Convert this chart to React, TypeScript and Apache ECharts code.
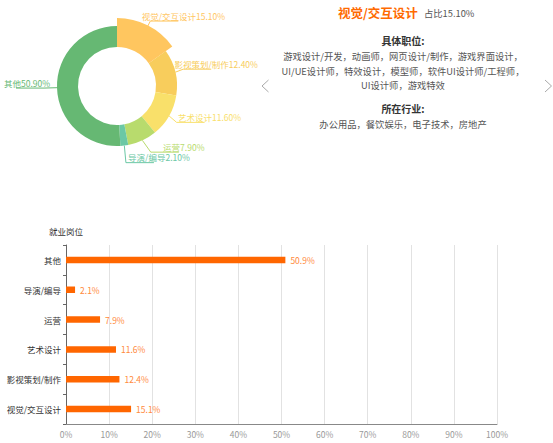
import React, { useEffect, useRef } from "react";
import * as echarts from "echarts";

const categories = ["视觉/交互设计", "影视策划/制作", "艺术设计", "运营", "导演/编导", "其他"];
const shares = [15.1, 12.4, 11.6, 7.9, 2.1, 50.9];
const sliceColors = ["#FFC65F", "#F8CD5C", "#F9E06A", "#B8DB6D", "#6BC8A5", "#66B873"];
const xMin = 0;
const xMax = 100;
const xStep = 10;
const yAxisName = "就业岗位";
const detailTitle = "视觉/交互设计";
const detailShare = "占比15.10%";
const jobHeading = "具体职位:";
const jobLines = [
  "游戏设计/开发，动画师，网页设计/制作，游戏界面设计，",
  "UI/UE设计师，特效设计，模型师，软件UI设计师/工程师，",
  "UI设计师，游戏特效",
];
const industryHeading = "所在行业:";
const industryLines = ["办公用品，餐饮娱乐，电子技术，房地产"];

const FONT = "'Noto Sans CJK SC', 'Noto Sans', sans-serif";

export default function App() {
  const pieRef = useRef<HTMLDivElement>(null);
  const mainRef = useRef<HTMLDivElement>(null);

  useEffect(() => {
    const main = echarts.init(mainRef.current!, undefined, { renderer: "svg" });
    const pie = echarts.init(pieRef.current!, undefined, { renderer: "svg" });

    const cx = 403;
    const graphics: any[] = [
      {
        type: "text",
        left: 338,
        top: 6,
        style: { text: detailTitle, fill: "#FF6A00", font: `bold 12.5px ${FONT}` },
      },
      {
        type: "text",
        left: 424,
        top: 8,
        style: { text: detailShare, fill: "#555", font: `9.3px ${FONT}` },
      },
      {
        type: "text",
        x: cx,
        y: 40,
        style: { text: jobHeading, fill: "#333", font: `bold 10px ${FONT}`, align: "center", verticalAlign: "middle" },
      },
      ...jobLines.map((t, i) => ({
        type: "text",
        x: cx,
        y: 56 + i * 14.5,
        style: { text: t, fill: "#555", font: `9.3px ${FONT}`, align: "center", verticalAlign: "middle" },
      })),
      {
        type: "text",
        x: cx,
        y: 108,
        style: { text: industryHeading, fill: "#333", font: `bold 10px ${FONT}`, align: "center", verticalAlign: "middle" },
      },
      ...industryLines.map((t, i) => ({
        type: "text",
        x: cx,
        y: 124 + i * 14.5,
        style: { text: t, fill: "#555", font: `9.3px ${FONT}`, align: "center", verticalAlign: "middle" },
      })),
      {
        type: "polyline",
        shape: { points: [[268.5, 80], [262, 86], [268.5, 92]] },
        style: { stroke: "#aaa", lineWidth: 1, fill: null },
      },
      {
        type: "polyline",
        shape: { points: [[545, 80], [551.5, 86], [545, 92]] },
        style: { stroke: "#aaa", lineWidth: 1, fill: null },
      },
    ];

    main.setOption({
      animation: false,
      textStyle: { fontFamily: FONT },
      grid: { left: 66, right: 56, top: 245, bottom: 19 },
      xAxis: {
        type: "value",
        min: xMin,
        max: xMax,
        interval: xStep,
        axisLabel: { formatter: "{value}%", color: "#999", fontSize: 8.5, margin: 6, fontFamily: FONT },
        axisLine: { show: true, lineStyle: { color: "#888" } },
        axisTick: { show: false },
        splitLine: { show: true, lineStyle: { color: "#e2e2e2" } },
      },
      yAxis: {
        type: "category",
        data: categories,
        name: yAxisName,
        nameLocation: "end",
        nameGap: 10,
        nameTextStyle: { color: "#333", fontSize: 8.5, align: "center", fontFamily: FONT },
        axisLine: { show: true, lineStyle: { color: "#666" } },
        axisTick: { show: true, length: 3, lineStyle: { color: "#666" } },
        axisLabel: { color: "#333", fontSize: 8.5, margin: 5, fontFamily: FONT },
        splitLine: { show: false },
      },
      series: [
        {
          type: "bar",
          data: shares,
          barWidth: 6.5,
          itemStyle: { color: "#FF6600" },
          label: {
            show: true,
            position: "right",
            distance: 5,
            formatter: (p: any) => p.value + "%",
            color: "#FF8A3C",
            fontSize: 8.5,
            fontFamily: FONT,
          },
        },
      ],
      graphic: graphics,
    });

    pie.setOption({
      animation: false,
      series: [
        {
          type: "pie",
          center: [117, 86],
          radius: [39, 60],
          startAngle: 90,
          clockwise: true,
          avoidLabelOverlap: true,
          data: categories.map((n, i) => ({
            name: n,
            value: shares[i],
            itemStyle: { color: sliceColors[i] },
            emphasis: { itemStyle: { color: sliceColors[i] } },
            label: { color: sliceColors[i] },
          })),
          label: {
            show: true,
            formatter: (p: any) => p.name + Number(p.value).toFixed(2) + "%",
            fontSize: 8.5,
            fontFamily: FONT,
            overflow: "none",
            width: 200,
          },
          labelLine: { show: true, length: 13, length2: 28, lineStyle: { width: 1 } },
          labelLayout: (params: any) => {
            const pts = params.labelLinePoints;
            if (!pts) return {};
            const end = pts[pts.length - 1];
            const isLeft = end[0] < 117;
            return {
              x: end[0] + (isLeft ? 11 : 5),
              y: end[1] - 1,
              align: "center",
              verticalAlign: "bottom",
              labelLinePoints: pts,
            };
          },
          emphasis: { scale: true, scaleSize: 8, label: { show: true } },
        },
      ],
    });
    pie.dispatchAction({ type: "highlight", seriesIndex: 0, dataIndex: 0 });

    return () => {
      pie.dispose();
      main.dispose();
    };
  }, []);

  return (
    <div style={{ position: "fixed", left: 0, top: 0, width: 553, height: 443, background: "#fff" }}>
      <div ref={mainRef} style={{ position: "absolute", left: 0, top: 0, width: 553, height: 443 }} />
      <div ref={pieRef} style={{ position: "absolute", left: 0, top: 0, width: 272, height: 175 }} />
    </div>
  );
}
